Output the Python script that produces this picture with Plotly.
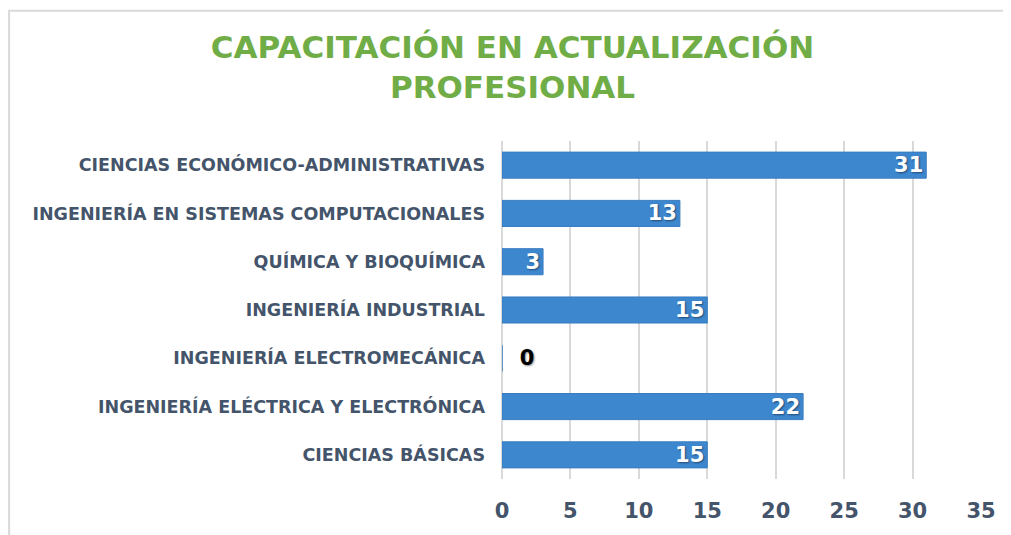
import plotly.graph_objects as go

# datos
carreras = [
    "CIENCIAS ECONÓMICO-ADMINISTRATIVAS",
    "INGENIERÍA EN SISTEMAS COMPUTACIONALES",
    "QUÍMICA Y BIOQUÍMICA",
    "INGENIERÍA INDUSTRIAL",
    "INGENIERÍA ELECTROMECÁNICA",
    "INGENIERÍA ELÉCTRICA Y ELECTRÓNICA",
    "CIENCIAS BÁSICAS",
]
capacitados = [31, 13, 3, 15, 0, 22, 15]
ticks_x = [0, 5, 10, 15, 20, 25, 30, 35]

gris_texto = "#44546a"
verde = "#70ad47"
fuente = "DejaVu Sans"

posiciones = ["inside" if v > 0 else "outside" for v in capacitados]
colores_txt = ["white" if v > 0 else "black" for v in capacitados]
etiquetas = [str(v) if v > 0 else "  " + str(v) for v in capacitados]

fig = go.Figure()
fig.add_trace(go.Bar(
    y=carreras,
    x=capacitados,
    orientation="h",
    marker=dict(color="#3d87cf", line=dict(color="#3a7cc0", width=1)),
    width=0.54,
    text=etiquetas,
    textposition=posiciones,
    insidetextanchor="end",
    textangle=0,
    cliponaxis=False,
    constraintext="none",
    textfont=dict(family=fuente, size=21, color=colores_txt, weight="bold",
                  shadow="1px 1px 2px rgba(0,0,0,0.45)"),
))

# la página tiene 8px de margen en body
fig.update_layout(
    width=1003, height=527,
    paper_bgcolor="white", plot_bgcolor="white",
    margin=dict(l=494, r=30, t=133, b=54),
    title=dict(
        text="CAPACITACIÓN EN ACTUALIZACIÓN<br>PROFESIONAL",
        x=0.503, xanchor="center", y=0.905, yanchor="top",
        font=dict(family=fuente, size=31, color=verde, weight="bold"),
    ),
    showlegend=False,
    shapes=[dict(type="rect", xref="paper", yref="paper",
                 x0=-1.029, x1=1.2, y0=-0.3, y1=1.385,
                 line=dict(color="#d9d9d9", width=2), fillcolor="rgba(0,0,0,0)",
                 layer="below")],
)
fig.update_xaxes(
    range=[0, 35], tickvals=ticks_x,
    showgrid=True, gridcolor="#d9d9d9", gridwidth=1.5,
    zeroline=True, zerolinecolor="#d9d9d9", zerolinewidth=1.5,
    showline=False, ticks="",
    tickfont=dict(family=fuente, size=21, color=gris_texto, weight="bold"),
    ticklabelstandoff=17,
)
fig.update_yaxes(
    categoryorder="array", categoryarray=carreras, autorange="reversed",
    showgrid=False, showline=False, ticks="",
    tickfont=dict(family=fuente, size=17.5, color=gris_texto, weight="bold"),
    ticklabelstandoff=16,
)

fig.write_html("out.html")
